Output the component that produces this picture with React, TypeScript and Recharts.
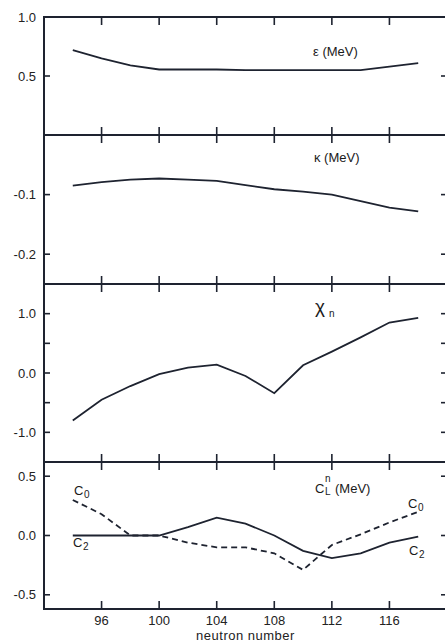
import React from 'react';
import { LineChart, Line, XAxis, YAxis, ReferenceArea } from 'recharts';

// neutron number (x) and the four fitted parameters
const neutrons = [94, 96, 98, 100, 102, 104, 106, 108, 110, 112, 114, 116, 118];
const epsilon = [0.72, 0.65, 0.59, 0.555, 0.555, 0.555, 0.55, 0.55, 0.55, 0.55, 0.55, 0.58, 0.61];
const kappa = [-0.085, -0.079, -0.075, -0.073, -0.075, -0.077, -0.084, -0.091, -0.095, -0.1, -0.111, -0.122, -0.128];
const chiN = [-0.8, -0.45, -0.22, -0.02, 0.09, 0.14, -0.05, -0.34, 0.13, 0.36, 0.6, 0.85, 0.93];
const c0 = [0.3, 0.18, 0.0, 0.0, -0.06, -0.1, -0.1, -0.15, -0.29, -0.08, 0.01, 0.11, 0.2];
const c2 = [0.0, 0.0, 0.0, 0.0, 0.07, 0.15, 0.1, 0.0, -0.13, -0.19, -0.15, -0.06, -0.01];

const xTicks = [96, 100, 104, 108, 112, 116];
const xDomain: [number, number] = [92, 120];

const data = neutrons.map((n, i) => ({
  n,
  eps: epsilon[i],
  kap: kappa[i],
  chi: chiN[i],
  c0: c0[i],
  c2: c2[i],
}));

const INK = '#1e2330';
const FONT = '"Liberation Sans", Arial, sans-serif';
const CHART_W = 460;
const tickStyle = { fontFamily: FONT, fontSize: 13, fill: '#222' };
const blank = () => '';

interface SeriesDef {
  key: string;
  dashed?: boolean;
}

interface PanelProps {
  plotTop: number;
  plotHeight: number;
  marginTop?: number;
  domain: [number, number];
  yTicks: number[];
  yLabels: Record<string, string>;
  series: SeriesDef[];
  bottom?: boolean;
}

// one stacked panel: frame, inward ticks on all four sides, shared x scale
function Panel({ plotTop, plotHeight, marginTop = 0, domain, yTicks, yLabels, series, bottom = false }: PanelProps) {
  const fmt = (v: number) => yLabels[String(v)] ?? '';
  const bottomH = bottom ? 35 : 1;
  const height = marginTop + 1 + plotHeight + bottomH;
  const top = plotTop - 1 - marginTop;
  return (
    <div style={{ position: 'absolute', left: 0, top, width: CHART_W, height }}>
      <LineChart width={CHART_W} height={height} data={data} margin={{ top: marginTop, right: 0, bottom: 0, left: 0 }}>
        <XAxis
          xAxisId="top"
          orientation="top"
          dataKey="n"
          type="number"
          domain={xDomain}
          ticks={xTicks}
          interval={0}
          height={1}
          tickSize={-8}
          tickFormatter={blank}
          stroke={INK}
          strokeWidth={1.6}
          axisLine={false}
        />
        <XAxis
          xAxisId="bottom"
          orientation="bottom"
          dataKey="n"
          type="number"
          domain={xDomain}
          ticks={xTicks}
          interval={0}
          height={bottomH}
          tickSize={-8}
          tickMargin={15}
          tick={tickStyle}
          tickFormatter={bottom ? (v: number) => String(v) : blank}
          stroke={INK}
          strokeWidth={1.6}
          axisLine={false}
          label={
            bottom
              ? { value: 'neutron  number', position: 'insideBottom', offset: 4, style: { fontFamily: FONT, fontSize: 13, fill: '#222', letterSpacing: 0.5 } }
              : undefined
          }
        />
        <YAxis
          yAxisId="left"
          type="number"
          domain={domain}
          allowDataOverflow
          ticks={yTicks}
          interval={0}
          width={44}
          tickSize={-6}
          tickMargin={14}
          tick={tickStyle}
          tickFormatter={fmt}
          stroke={INK}
          strokeWidth={1.6}
          axisLine={false}
        />
        <YAxis
          yAxisId="right"
          orientation="right"
          type="number"
          domain={domain}
          allowDataOverflow
          ticks={yTicks}
          interval={0}
          width={13}
          tickSize={-6}
          tickFormatter={blank}
          stroke={INK}
          strokeWidth={1.6}
          axisLine={false}
        />
        <ReferenceArea
          xAxisId="bottom"
          yAxisId="left"
          x1={xDomain[0]}
          x2={xDomain[1]}
          y1={domain[0]}
          y2={domain[1]}
          fill="none"
          stroke={INK}
          strokeWidth={2}
          ifOverflow="visible"
        />
        {series.map((s) => (
          <Line
            key={s.key}
            xAxisId="bottom"
            yAxisId="left"
            type="linear"
            dataKey={s.key}
            stroke={INK}
            strokeWidth={1.8}
            strokeDasharray={s.dashed ? '6 4' : undefined}
            dot={false}
            isAnimationActive={false}
          />
        ))}
      </LineChart>
    </div>
  );
}

const lbl = (x: number, y: number, size = 13): React.CSSProperties => ({
  position: 'absolute',
  left: x,
  top: y,
  fontFamily: FONT,
  fontSize: size,
  color: '#1a1a1a',
  lineHeight: 1,
  whiteSpace: 'nowrap',
});

const sub = (x: number, y: number): React.CSSProperties => lbl(x, y, 10);

export default function App() {
  return (
    <div style={{ position: 'absolute', left: 0, top: 0, width: 445, height: 644, overflow: 'hidden', background: '#fff' }}>
      <Panel
        plotTop={17}
        plotHeight={118}
        marginTop={16}
        domain={[0, 1]}
        yTicks={[0.5, 1]}
        yLabels={{ '0.5': '0.5', '1': '1.0' }}
        series={[{ key: 'eps' }]}
      />
      <Panel
        plotTop={135}
        plotHeight={149}
        domain={[-0.25, 0]}
        yTicks={[-0.2, -0.1]}
        yLabels={{ '-0.2': '-0.2', '-0.1': '-0.1' }}
        series={[{ key: 'kap' }]}
      />
      <Panel
        plotTop={284}
        plotHeight={178}
        domain={[-1.5, 1.5]}
        yTicks={[-1, -0.5, 0, 0.5, 1]}
        yLabels={{ '-1': '-1.0', '0': '0.0', '1': '1.0' }}
        series={[{ key: 'chi' }]}
      />
      <Panel
        plotTop={462}
        plotHeight={147}
        domain={[-0.62, 0.62]}
        yTicks={[-0.5, 0, 0.5]}
        yLabels={{ '-0.5': '-0.5', '0': '0.0', '0.5': '0.5' }}
        series={[{ key: 'c0', dashed: true }, { key: 'c2' }]}
        bottom
      />

      <div style={lbl(313, 45)}>ε (MeV)</div>
      <div style={lbl(314, 151)}>κ (MeV)</div>
      <div style={lbl(315, 297, 19)}>χ</div>
      <div style={sub(329, 309)}>n</div>

      <div style={lbl(315, 482)}>C</div>
      <div style={sub(325, 474)}>n</div>
      <div style={sub(325, 487)}>L</div>
      <div style={lbl(335, 482)}>(MeV)</div>

      <div style={lbl(74, 484)}>C</div>
      <div style={sub(84, 490)}>0</div>
      <div style={lbl(408, 497)}>C</div>
      <div style={sub(418, 503)}>0</div>
      <div style={lbl(73, 536)}>C</div>
      <div style={sub(83, 542)}>2</div>
      <div style={lbl(409, 544)}>C</div>
      <div style={sub(419, 550)}>2</div>
    </div>
  );
}
